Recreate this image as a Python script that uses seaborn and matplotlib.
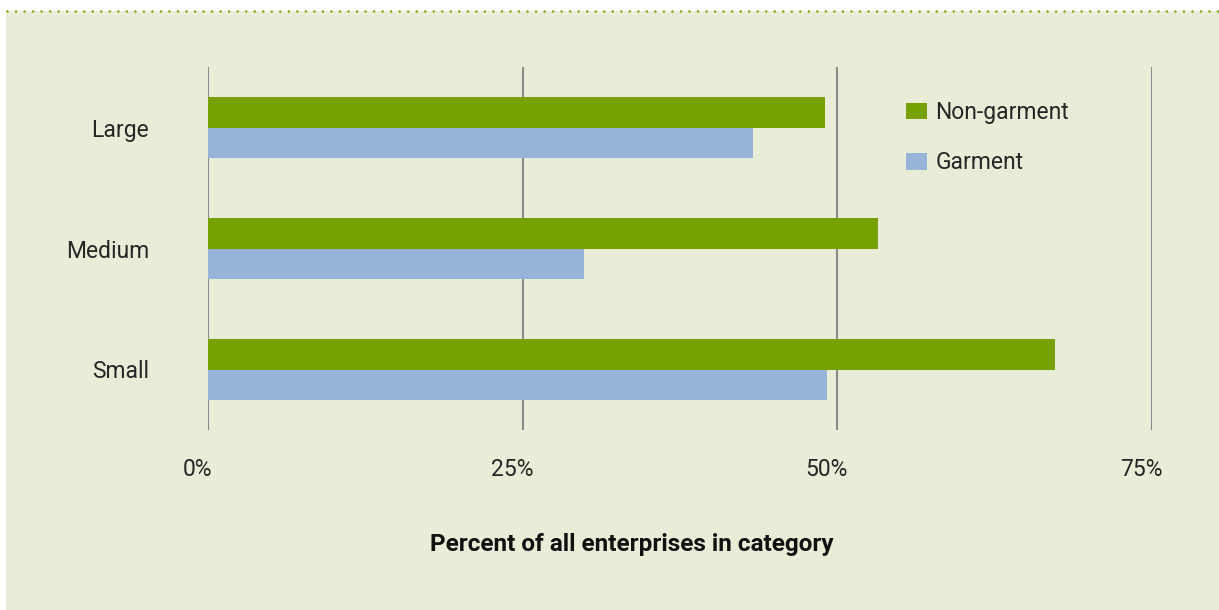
import matplotlib
matplotlib.use("Agg")
import matplotlib.pyplot as plt
import matplotlib.transforms as mtransforms
from matplotlib.patches import Rectangle
from matplotlib.lines import Line2D
import seaborn as sns
import pandas as pd

# Share of enterprises in each size category
sizes = ["Large", "Medium", "Small"]
non_garment = [49.0, 53.2, 67.3]
garment = [43.3, 29.9, 49.2]
series = ["Non-garment", "Garment"]
x_ticks = [0, 25, 50, 75]
x_tick_labels = ["0%", "25%", "50%", "75%"]
x_title = "Percent of all enterprises in category"

df = pd.DataFrame({
    "size": sizes * 2,
    "share": non_garment + garment,
    "sector": [series[0]] * len(sizes) + [series[1]] * len(sizes),
})

BG = "#E9EDD7"
GREEN = "#76A100"
BLUE = "#97B3D8"
GRID = "#8A8A8A"
TEXT = "#262626"
FS = 16.5

sns.set_theme(style="white")
plt.rcParams["font.family"] = ["Roboto", "DejaVu Sans"]

W, H = 1219, 610
PT = 72 / 100  # points per pixel at 100 dpi
fig = plt.figure(figsize=(W / 100, H / 100), dpi=100, facecolor="white")

# Panel background and dotted rule along its top
fig.patches.append(Rectangle((6 / W, 0), 1 - 6 / W, (H - 11) / H,
                             transform=fig.transFigure, facecolor=BG,
                             edgecolor="none", zorder=0))
fig.lines.append(Line2D([7 / W, 1], [(H - 11) / H] * 2, transform=fig.transFigure,
                        color=GREEN, linestyle=(0, (0.01, 3.4)), linewidth=1.8,
                        dash_capstyle="round", zorder=1))

left, right, top, bottom = 208, 1152, 67, 430
ax = fig.add_axes([left / W, 1 - bottom / H, (right - left) / W, (bottom - top) / H])
ax.set_facecolor("none")
ax.set_zorder(5)

sns.barplot(data=df, y="size", x="share", hue="sector", order=sizes,
            hue_order=series, palette=[GREEN, BLUE], orient="h",
            width=0.512, saturation=1, linewidth=0, ax=ax, legend=True, zorder=3)

ax.set_xlim(0, 75)
ax.set_ylim(2.5, -0.5)
ax.set_xticks(x_ticks)
ax.set_xticklabels(x_tick_labels, fontsize=FS, color=TEXT)
ax.set_yticks(range(len(sizes)))
ax.set_yticklabels(sizes, fontsize=FS, color=TEXT)
ax.tick_params(axis="x", length=0, pad=28 * PT)
ax.tick_params(axis="y", length=0, pad=59 * PT)
offset = mtransforms.ScaledTranslation(-10.5 / 100, 0, fig.dpi_scale_trans)
for lbl in ax.get_xticklabels():
    lbl.set_transform(lbl.get_transform() + offset)

for xv in x_ticks:
    ax.axvline(xv, color=GRID, linewidth=1.5, zorder=2)

for s in ax.spines.values():
    s.set_visible(False)
ax.set_xlabel("")
ax.set_ylabel("")

handles, labels = ax.get_legend_handles_labels()
leg = ax.legend(handles, labels, loc="upper left", frameon=False,
                bbox_to_anchor=(906 / W, 1 - 101 / H), bbox_transform=fig.transFigure,
                prop={"size": FS}, handlelength=0.9, handleheight=0.72,
                handletextpad=0.38, labelspacing=1.2,
                borderaxespad=0, borderpad=0, labelcolor=TEXT)

fig.text(632 / W, 1 - 545 / H, x_title, ha="center", va="center",
         fontsize=17.5, fontweight="bold", color="#111111")

fig.savefig("out.png", dpi=100, facecolor="white")
